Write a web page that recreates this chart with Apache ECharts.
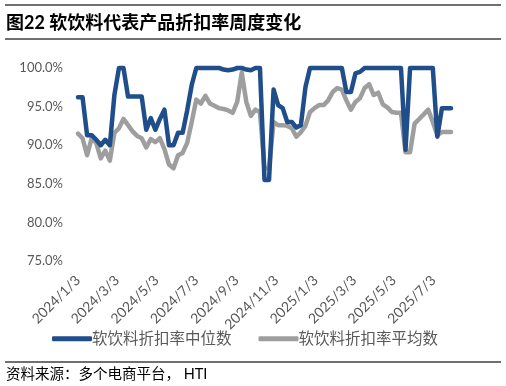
<!DOCTYPE html>
<html>
<head>
<meta charset="utf-8">
<script src="https://cdn.jsdelivr.net/npm/echarts@6/dist/echarts.min.js"></script>
<style>
html,body{margin:0;padding:0;background:#fff;}
#main{width:506px;height:386px;}
</style>
</head>
<body>
<div id="main"></div>
<script>
// Weekly observation dates start (first week) and count
var startDate = [2024, 1, 3];
var weekCount = 83;
// Tick label dates
var tickLabels = ['2024/1/3','2024/3/3','2024/5/3','2024/7/3','2024/9/3','2024/11/3','2025/1/3','2025/3/3','2025/5/3','2025/7/3'];
// Series names
var seriesNames = ['软饮料折扣率中位数', '软饮料折扣率平均数'];
// Median discount rate (%)
var medianValues = [
  96.2, 96.2, 91.3, 91.3, 90.7, 90.0, 90.7, 90.0, 96.5, 100,
  100, 96.3, 96.3, 96.3, 96.3, 92.0, 93.5, 92.0, 93.4, 94.6,
  90.0, 90.0, 91.6, 91.6, 94.5, 97.8, 100, 100, 100, 100,
  100, 100, 99.8, 99.7, 99.8, 100, 100, 99.8, 99.7, 100,
  100, 85.5, 85.5, 97.2, 95.2, 94.8, 93.0, 93.0, 92.3, 92.6,
  97.5, 100, 100, 100, 100, 100, 100, 100, 100, 96.9,
  96.9, 99.3, 99.5, 100, 100, 100, 100, 100, 100, 100,
  100, 100, 89.4, 100, 100, 100, 100, 100, 100, 91.1,
  94.8, 94.8, 94.8
];
// Mean discount rate (%)
var meanValues = [
  91.5, 90.9, 88.7, 90.9, 90.3, 88.3, 89.3, 88.0, 91.6, 92.2,
  93.4, 92.6, 91.8, 91.2, 90.9, 89.7, 90.8, 90.4, 90.9, 89.5,
  87.5, 87.0, 88.7, 89.0, 90.3, 93.0, 95.9, 95.4, 96.4, 95.4,
  95.1, 94.8, 94.7, 94.5, 94.2, 95.6, 99.4, 95.6, 93.8, 94.6,
  94.3, 87.0, 87.0, 93.0, 92.6, 92.6, 92.5, 92.2, 91.1, 91.7,
  92.5, 94.3, 94.8, 95.2, 95.2, 95.8, 96.9, 97.4, 97.2, 95.8,
  94.6, 95.6, 96.1, 97.4, 97.9, 96.5, 96.8, 95.3, 94.9, 94.3,
  94.2, 94.2, 89.1, 89.1, 92.8, 93.4, 94.0, 94.6, 93.0, 91.3,
  91.7, 91.7, 91.7
];
// Y-axis tick values
var yTicks = [75, 80, 85, 90, 95, 100];

var DAY = 86400000;
var t0 = Date.UTC(startDate[0], startDate[1]-1, startDate[2]);
// x values are days since the first observation
var dayOffsets = [];
for (var i = 0; i < weekCount; i++) dayOffsets.push(i*7);
function parseLabel(s){ var p = s.split('/'); return Math.round((Date.UTC(+p[0], +p[1]-1, +p[2]) - t0)/DAY); }
var tickDays = tickLabels.map(parseLabel);
function fmt(v){ var d = new Date(t0 + v*DAY); return d.getUTCFullYear()+'/'+(d.getUTCMonth()+1)+'/'+d.getUTCDate(); }

var FONT = 'Lato, "Noto Sans CJK SC", sans-serif';
var chart = echarts.init(document.getElementById('main'), null, {renderer:'canvas'});
chart.setOption({
  animation: false,
  backgroundColor: '#fff',
  grid: { left: 78, right: 55, top: 68, bottom: 125, containLabel: false },
  xAxis: {
    type: 'value',
    min: dayOffsets[0],
    max: dayOffsets[dayOffsets.length-1],
    axisLine: { show: false },
    axisTick: { show: false },
    splitLine: { show: false },
    axisLabel: {
      customValues: tickDays,
      formatter: function(v){ return fmt(v); },
      rotate: 45,
      margin: 17,
      fontSize: 14,
      color: '#595959',
      fontFamily: FONT,
      hideOverlap: false
    }
  },
  yAxis: {
    type: 'value',
    min: yTicks[0],
    max: yTicks[yTicks.length-1],
    interval: 5,
    axisLine: { show: false },
    axisTick: { show: false },
    splitLine: { show: false },
    axisLabel: {
      formatter: function(v){ return v.toFixed(1) + '%'; },
      fontSize: 13,
      color: '#595959',
      fontFamily: FONT,
      margin: 15
    }
  },
  legend: {
    left: 47,
    top: 326,
    icon: 'roundRect',
    itemWidth: 40,
    itemHeight: 5,
    itemGap: 27,
    textStyle: { fontSize: 15.5, color: '#595959', fontFamily: FONT, padding: [0, 0, 0, -5] },
    data: seriesNames
  },
  series: [
    {
      name: seriesNames[0], type: 'line', showSymbol: false, clip: false,
      data: dayOffsets.map(function(d,i){ return [d, medianValues[i]]; }),
      lineStyle: { color: '#1F4E8A', width: 4.5, cap: 'round', join: 'round' },
      itemStyle: { color: '#1F4E8A' },
      z: 3
    },
    {
      name: seriesNames[1], type: 'line', showSymbol: false, clip: false,
      data: dayOffsets.map(function(d,i){ return [d, meanValues[i]]; }),
      lineStyle: { color: '#9E9E9E', width: 4.5, cap: 'round', join: 'round' },
      itemStyle: { color: '#9E9E9E' },
      z: 2
    }
  ],
  graphic: [
    { type: 'line', shape: { x1: 5, y1: 5, x2: 501, y2: 5 }, style: { stroke: '#404040', lineWidth: 1.5 } },
    { type: 'text', left: 6, top: 14, style: { text: '图22 软饮料代表产品折扣率周度变化', font: 'bold 18px ' + FONT, fill: '#000' } },
    { type: 'line', shape: { x1: 5, y1: 39, x2: 501, y2: 39 }, style: { stroke: '#404040', lineWidth: 1.5 } },
    { type: 'line', shape: { x1: 5, y1: 362, x2: 501, y2: 362 }, style: { stroke: '#404040', lineWidth: 1.5 } },
    { type: 'text', left: 6, top: 367, style: { text: '资料来源：多个电商平台， HTI', font: '14.5px ' + FONT, fill: '#000' } }
  ]
});
</script>
</body>
</html>
